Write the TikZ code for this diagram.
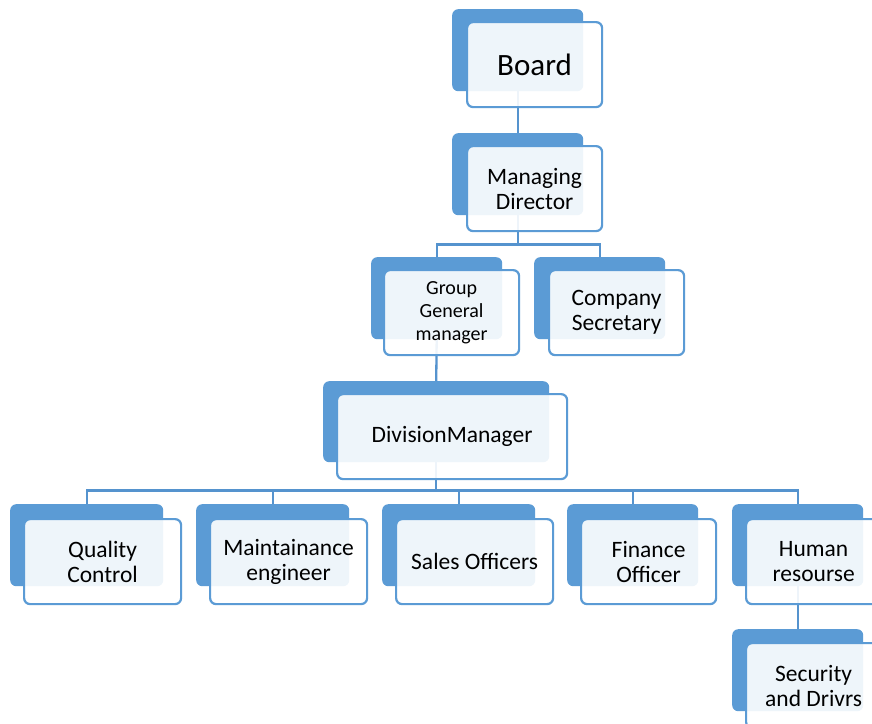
\documentclass[tikz,border=0pt]{standalone}
\usepackage{fontspec}
\setmainfont{Carlito}
\definecolor{accent}{HTML}{5B9BD5}
\definecolor{linkblue}{HTML}{5593CE}
\tikzset{
  back/.style={fill=accent, draw=none, rounded corners=6pt, inner sep=0pt,
    anchor=north west},
  front/.style={fill=white, fill opacity=0.9, text opacity=1, draw=accent,
    draw opacity=1, line width=2.2pt, rounded corners=6pt, inner sep=0pt,
    anchor=north west, align=center, text=black,
    font=\fontsize{23.5}{25}\selectfont},
  narrow/.style={minimum width=131pt, minimum height=82pt},
  narrowF/.style={minimum width=135pt, minimum height=85pt},
  wide/.style={minimum width=153pt, minimum height=82pt},
  wideF/.style={minimum width=157pt, minimum height=85pt},
  conn/.style={draw=linkblue, line width=2.3pt},
}
\begin{document}
\begin{tikzpicture}[x=1pt, y=-1pt]
\clip (0,0) rectangle (872,723);
\fill[white] (0,0) rectangle (872,723);

% back plates
\node[back, narrow] (board) at (452,9) {};
\node[back, narrow] (md) at (452,133) {};
\node[back, narrow] (ggm) at (371,257) {};
\node[back, narrow] (cs) at (534,257) {};
\node[back, minimum width=226pt, minimum height=81pt] (dm) at (323,381) {};
\node[back, wide] (qc) at (10,504) {};
\node[back, wide] (me) at (196,504) {};
\node[back, wide] (so) at (382,504) {};
\node[back, narrow] (fo) at (567,504) {};
\node[back, narrow] (hr) at (732,504) {};
\node[back, narrow] (sd) at (732,629) {};

% reporting lines
\draw[conn] (board.south) -- (md.north);
\draw[conn] (md.south) -- ++(0,29) coordinate (mdbus);
\draw[conn] (ggm.north) |- (mdbus) -| (cs.north);
\draw[conn] (ggm.south) -- (dm.north);
\draw[conn] (dm.south) -- ++(0,28) coordinate (dmbus);
\draw[conn] (qc.north) |- (dmbus) -| (hr.north);
\draw[conn] (me.north) -- (me.north |- dmbus);
\draw[conn] (so.north) -- (so.north |- dmbus);
\draw[conn] (fo.north) -- (fo.north |- dmbus);
\draw[conn] (hr.south) -- (sd.north);

% front cards with titles
\node[front, narrowF, font=\fontsize{31}{33}\selectfont] (boardT) at (466,21) {Board};
\node[front, narrowF] (mdT) at (466,145) {Managing\\Director};
\node[front, narrowF, font=\fontsize{20}{23}\selectfont] (ggmT) at (383,269) {Group\\General\\manager};
\node[front, narrowF] (csT) at (548,269) {Company\\Secretary};
\node[front, minimum width=230pt, minimum height=85pt] (dmT) at (336,393) {DivisionManager};
\node[front, wideF] (qcT) at (23,518) {Quality\\Control};
\node[front, wideF] (meT) at (209,518) {Maintainance\\engineer};
\node[front, wideF] (soT) at (395,518) {Sales Officers};
\node[front, narrowF] (foT) at (580,518) {Finance\\Officer};
\node[front, narrowF] (hrT) at (745,518) {Human\\resourse};
\node[front, narrowF] (sdT) at (745,642) {Security\\and Drivrs};
\end{tikzpicture}
\end{document}
